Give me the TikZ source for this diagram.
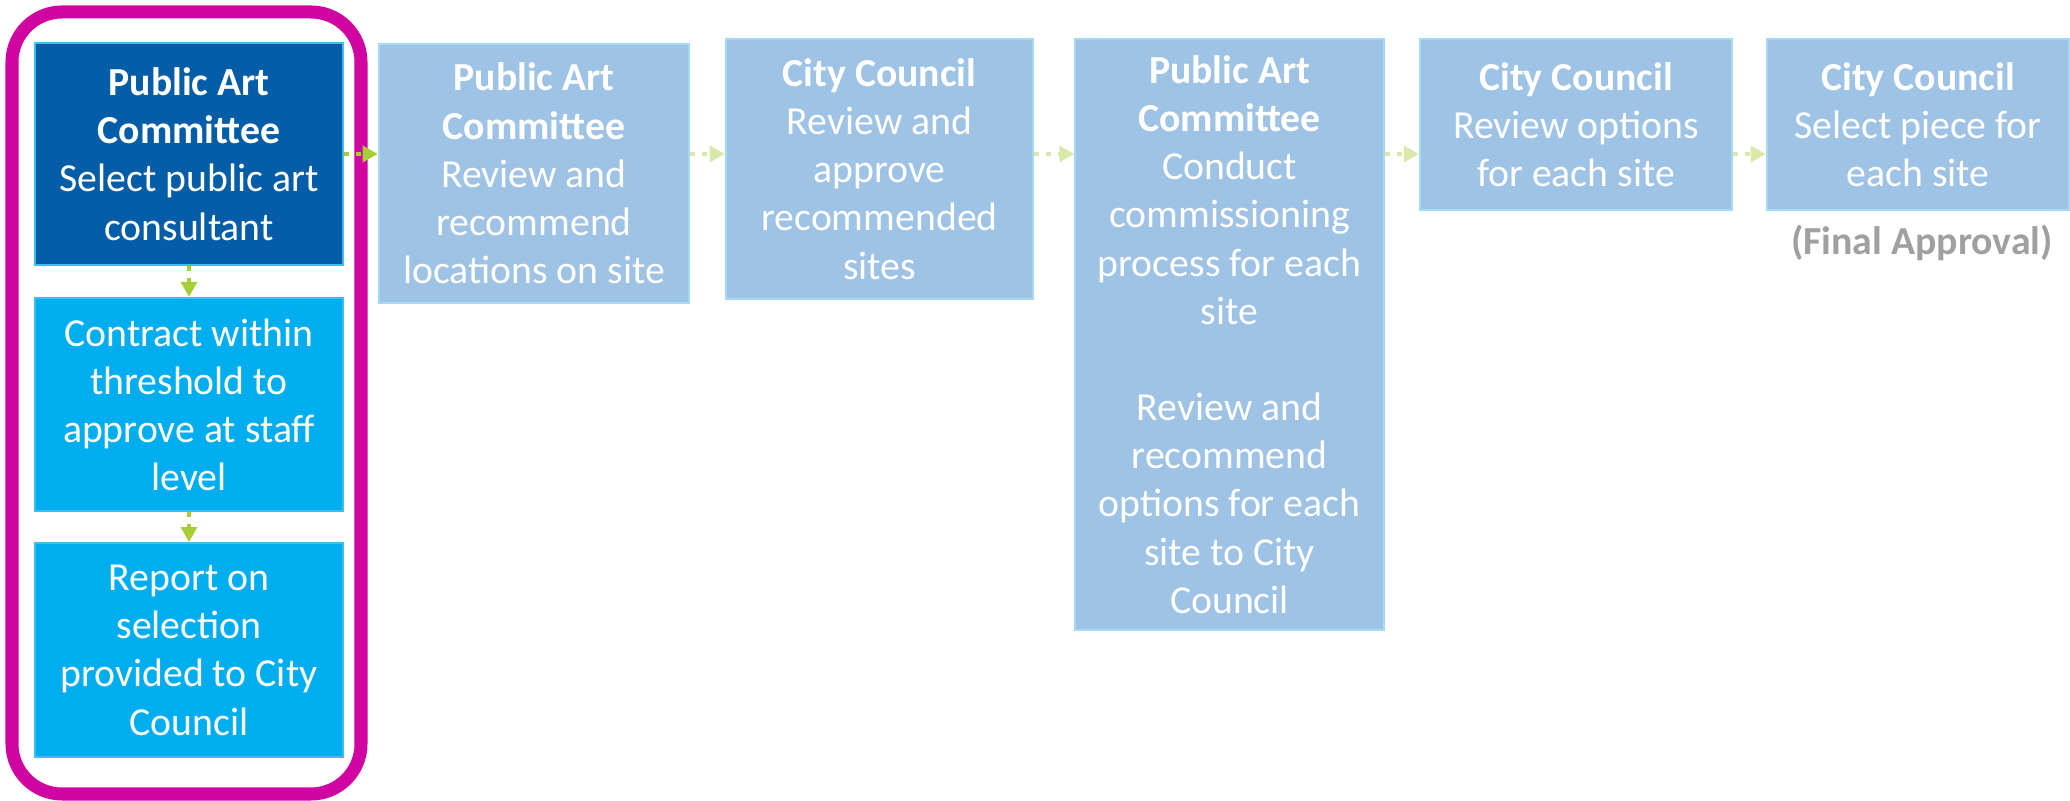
\documentclass[tikz,border=0pt]{standalone}
\usepackage{fontspec}
\setmainfont{Carlito}
\usetikzlibrary{arrows.meta}
\definecolor{pacblue}{RGB}{5,93,167}
\definecolor{stepcyan}{RGB}{0,174,239}
\definecolor{stepedge}{RGB}{60,190,240}
\definecolor{fadeblue}{RGB}{158,195,229}
\definecolor{fadeedge}{RGB}{165,218,242}
\definecolor{flowgreen}{RGB}{166,206,57}
\definecolor{fadegreen}{RGB}{218,233,170}
\definecolor{ringpink}{RGB}{208,4,161}
\definecolor{notegray}{RGB}{160,160,160}
\tikzstyle{stage}=[rectangle, inner sep=2pt, align=center, text=white, line width=0.6pt, anchor=center, font=\fontsize{11.3}{13.7}\selectfont]
\tikzstyle{doneblock}=[stage, fill=stepcyan, draw=stepedge]
\tikzstyle{laterblock}=[stage, fill=fadeblue, draw=fadeedge, minimum width=3.08cm]
\tikzstyle{flow}=[draw=flowgreen, line width=1.4pt, dash pattern=on 1.4pt off 2pt, -{Triangle[length=4.3pt,width=4.5pt]}]
\tikzstyle{fadeflow}=[flow, draw=fadegreen]
\begin{document}
\begin{tikzpicture}[x=0.01cm, y=-0.01cm]
	\useasboundingbox (0,0) rectangle (2070,801);

	% steps done so far
	\draw[ringpink, line width=3.7pt, rounded corners=0.5cm] (12,12) rectangle (361,794);
	\node[doneblock, fill=pacblue, minimum width=3.08cm, minimum height=2.22cm](pac1) at (189,154){\textbf{Public Art}\\\textbf{Committee}\\Select public art\\consultant};
	\node[doneblock, minimum width=3.08cm, minimum height=2.13cm, below of=pac1, node distance=2.505cm](contract){Contract within\\threshold to\\approve at staff\\level};
	\node[doneblock, minimum width=3.08cm, minimum height=2.14cm, below of=contract, node distance=2.455cm](report){Report on\\selection\\provided to City\\Council};

	% steps still to come
	\node[laterblock, minimum width=3.10cm, minimum height=2.59cm](pacA) at (534,173.5){\textbf{Public Art}\\\textbf{Committee}\\Review and\\recommend\\locations on site};
	\node[laterblock, minimum width=3.07cm, minimum height=2.60cm](ccB) at (879.5,169){\textbf{City Council}\\Review and\\approve\\recommended\\sites};
	\node[laterblock, minimum height=5.91cm](pacC) at (1229.5,334.5){\textbf{Public Art}\\\textbf{Committee}\\Conduct\\commissioning\\process for each\\site\\[13.7pt]Review and\\recommend\\options for each\\site to City\\Council};
	\node[laterblock, minimum width=3.12cm, minimum height=1.71cm](ccD) at (1576,124.5){\textbf{City Council}\\Review options\\for each site};
	\node[laterblock, minimum width=3.02cm, minimum height=1.71cm](ccE) at (1918,124.5){\textbf{City Council}\\Select piece for\\each site};
	\node[font=\fontsize{11.3}{13.7}\selectfont\bfseries, text=notegray](final) at (1922,243){(Final Approval)};

	\draw[flow] (pac1.south) -- (contract.north);
	\draw[flow] (contract.south) -- (report.north);
	\draw[flow] (pac1.east) -- (pac1.east -| pacA.west);
	\foreach \a/\b in {pacA/ccB, ccB/pacC, pacC/ccD, ccD/ccE}
		\draw[fadeflow] (\a.east |- pac1.east) -- (\b.west |- pac1.east);

\end{tikzpicture}
\end{document}
